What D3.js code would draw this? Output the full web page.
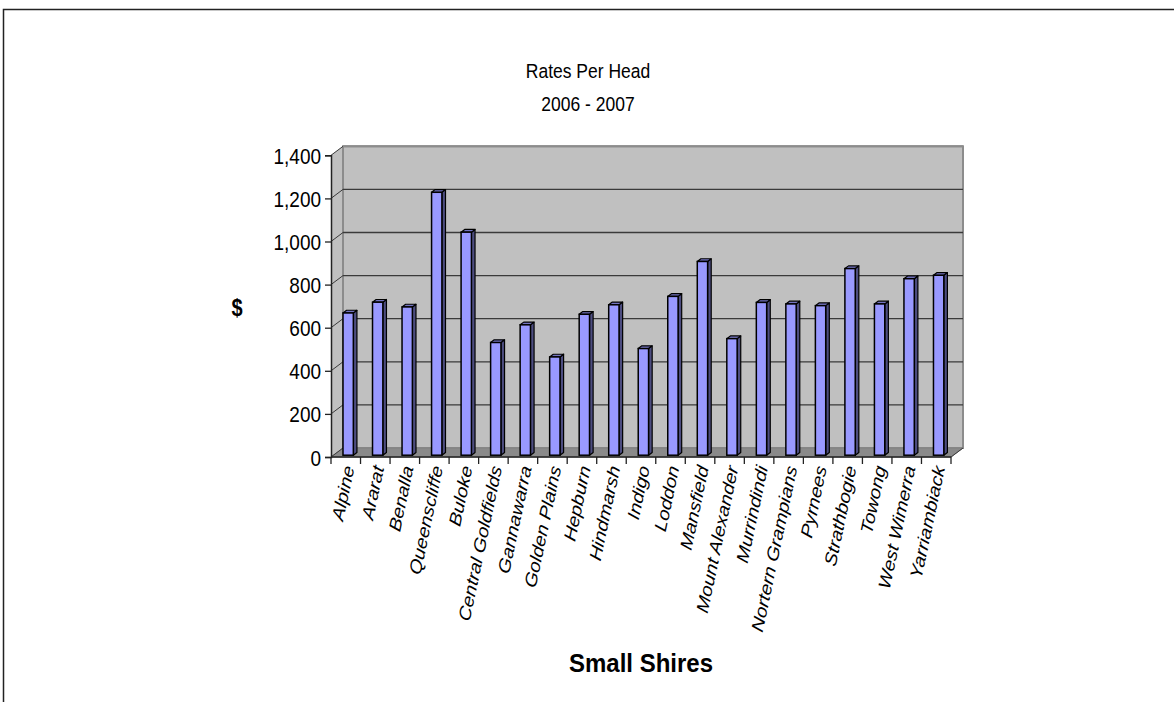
<!DOCTYPE html>
<html>
<head>
<meta charset="utf-8">
<script src="https://cdn.jsdelivr.net/npm/d3@7"></script>
<style>
  html, body { margin: 0; padding: 0; background: #fff; }
  svg { display: block; font-family: "Liberation Sans", Arial, sans-serif; }
</style>
</head>
<body>
<svg id="chart" width="1174" height="702"></svg>
<script>
// Rates per head, small shires, 2006 - 2007
const categories = [
  "Alpine", "Ararat", "Benalla", "Queenscliffe", "Buloke", "Central Goldfields",
  "Gannawarra", "Golden Plains", "Hepburn", "Hindmarsh", "Indigo", "Loddon",
  "Mansfield", "Mount Alexander", "Murrindindi", "Nortern Grampians", "Pyrnees",
  "Strathbogie", "Towong", "West Wimerra", "Yarriambiack"
];
const ratesPerHead = [
  660, 710, 688, 1220, 1035, 523,
  605, 456, 654, 698, 495, 737,
  899, 541, 709, 702, 694,
  866, 702, 819, 835
];
const yTicks = [0, 200, 400, 600, 800, 1000, 1200, 1400];
const titleLines = ["Rates Per Head", "2006 - 2007"];
const yTitle = "$";
const xTitle = "Small Shires";

// text in this chart is drawn slightly tall and narrow
const TEXT_STRETCH = 1.18;

const svg = d3.select("#chart");

// outer frame (top and left edges)
svg.append("path")
  .attr("d", "M3.5,702 L3.5,9.5 L1174,9.5")
  .attr("fill", "none").attr("stroke", "#222").attr("stroke-width", 1.5);

// plot geometry: front plane and depth offset of the walls
const x0 = 331, x1 = 951;
const y = d3.scaleLinear().domain([0, 1400]).range([457, 155.3]);
const x = d3.scaleBand().domain(categories).range([x0, x1]).padding(0);
const DX = 12, DY = -9;          // wall depth
const barShift = 0.2;            // bar plane position inside the depth
const barDepth = 0.3;            // bar thickness as fraction of the depth
const barW = x.bandwidth() * 0.35;

const g = svg.append("g");

// back wall
g.append("rect")
  .attr("x", x0 + DX).attr("y", y(1400) + DY)
  .attr("width", x1 - x0).attr("height", y(0) - y(1400))
  .attr("fill", "#c0c0c0").attr("stroke", "#8c8c8c").attr("stroke-width", 2);

// side wall
g.append("path")
  .attr("d", `M${x0},${y(0)} L${x0},${y(1400)} L${x0 + DX},${y(1400) + DY} L${x0 + DX},${y(0) + DY} Z`)
  .attr("fill", "#c0c0c0").attr("stroke", "none");
g.append("line")
  .attr("x1", x0 + DX).attr("x2", x0 + DX)
  .attr("y1", y(1400) + DY).attr("y2", y(0) + DY)
  .attr("stroke", "#8c8c8c").attr("stroke-width", 2);

// floor
g.append("path")
  .attr("d", `M${x0},${y(0)} L${x1},${y(0)} L${x1 + DX},${y(0) + DY} L${x0 + DX},${y(0) + DY} Z`)
  .attr("fill", "#8a8a8a").attr("stroke", "#808080").attr("stroke-width", 1);

// gridlines on back wall and side wall
const grid = g.append("g");
yTicks.filter(v => v > 0).forEach(v => {
  grid.append("line")
    .attr("x1", x0 + DX).attr("x2", x1 + DX)
    .attr("y1", y(v) + DY).attr("y2", y(v) + DY)
    .attr("stroke", v === 1400 ? "#8c8c8c" : "#3a3a3a").attr("stroke-width", v === 1400 ? 2 : 1.3);
});
yTicks.forEach(v => {
  grid.append("line")
    .attr("x1", x0).attr("x2", x0 + DX)
    .attr("y1", y(v)).attr("y2", y(v) + DY)
    .attr("stroke", "#3a3a3a").attr("stroke-width", 1);
});
// right end of the floor edge
g.append("line")
  .attr("x1", x1).attr("y1", y(0)).attr("x2", x1 + DX).attr("y2", y(0) + DY)
  .attr("stroke", "#3a3a3a").attr("stroke-width", 1);

// bars
const bars = g.append("g").selectAll("g").data(categories).join("g");
bars.each(function (c, i) {
  const v = ratesPerHead[i];
  const cx = x(c) + x.bandwidth() / 2 + DX * barShift;
  const bx = cx - barW / 2;
  const base = y(0) + DY * barShift;
  const top = y(v) + DY * barShift;
  const ddx = DX * barDepth, ddy = DY * barDepth;
  const sel = d3.select(this);
  // side face
  sel.append("path")
    .attr("d", `M${bx + barW},${base} L${bx + barW},${top} L${bx + barW + ddx},${top + ddy} L${bx + barW + ddx},${base + ddy} Z`)
    .attr("fill", "#4d4d80").attr("stroke", "#000").attr("stroke-width", 1.2).attr("stroke-linejoin", "round");
  // top face
  sel.append("path")
    .attr("d", `M${bx},${top} L${bx + barW},${top} L${bx + barW + ddx},${top + ddy} L${bx + ddx},${top + ddy} Z`)
    .attr("fill", "#7373bf").attr("stroke", "#000").attr("stroke-width", 1.2).attr("stroke-linejoin", "round");
  // front face
  sel.append("rect")
    .attr("x", bx).attr("y", top).attr("width", barW).attr("height", base - top)
    .attr("fill", "#9999ff").attr("stroke", "#000").attr("stroke-width", 1.5);
});

// value axis (front left edge)
const yAxis = d3.axisLeft(y).tickValues(yTicks).tickSize(6).tickPadding(4)
  .tickFormat(d3.format(","));
const ya = svg.append("g").attr("transform", `translate(${x0},0)`).call(yAxis);
ya.select(".domain").attr("stroke", "#222").attr("stroke-width", 1.5);
ya.selectAll(".tick line").attr("stroke", "#222").attr("stroke-width", 1.3);
ya.selectAll(".tick text").attr("font-size", 19).attr("fill", "#000")
  .attr("font-family", "Liberation Sans, Arial, sans-serif")
  .attr("dy", null).attr("dominant-baseline", "central")
  .attr("transform", `scale(1,${TEXT_STRETCH})`);

// category axis (front bottom edge)
const boundaries = categories.map(c => x(c)).concat([x1]);
const xa = svg.append("g");
xa.append("line").attr("x1", x0).attr("x2", x1).attr("y1", y(0)).attr("y2", y(0))
  .attr("stroke", "#222").attr("stroke-width", 1.5);
xa.selectAll("line.tk").data(boundaries).join("line").attr("class", "tk")
  .attr("x1", d => d).attr("x2", d => d).attr("y1", y(0)).attr("y2", y(0) + 7)
  .attr("stroke", "#222").attr("stroke-width", 1.3);
xa.selectAll("text").data(categories).join("text")
  .attr("transform", c => `translate(${x(c) + x.bandwidth() / 2 + 3},${y(0) + 9}) scale(1,${TEXT_STRETCH}) rotate(-76)`)
  .attr("text-anchor", "end").attr("dy", "0.35em")
  .attr("font-size", 17).attr("font-style", "italic").attr("fill", "#000")
  .text(c => c);

// titles
svg.selectAll("text.title").data(titleLines).join("text").attr("class", "title")
  .attr("transform", (d, i) => `translate(588,${71 + i * 33}) scale(1,${TEXT_STRETCH})`)
  .attr("dominant-baseline", "central")
  .attr("text-anchor", "middle").attr("font-size", 17.5).attr("fill", "#000")
  .text(d => d);

svg.append("text")
  .attr("transform", `translate(237,308) scale(1,${TEXT_STRETCH})`)
  .attr("dominant-baseline", "central")
  .attr("text-anchor", "middle").attr("font-size", 20).attr("font-weight", "bold")
  .text(yTitle);

svg.append("text")
  .attr("transform", `translate(641,663) scale(1,1.05)`)
  .attr("dominant-baseline", "central")
  .attr("text-anchor", "middle").attr("font-size", 24).attr("font-weight", "bold")
  .text(xTitle);
</script>
</body>
</html>
